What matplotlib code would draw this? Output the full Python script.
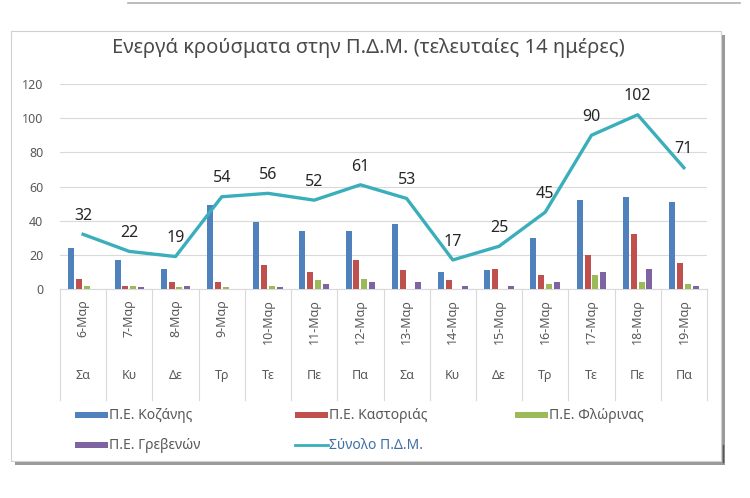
import matplotlib
matplotlib.use("Agg")
import matplotlib.pyplot as plt
from matplotlib.patches import Rectangle
from matplotlib.lines import Line2D
import numpy as np

plt.rcParams['font.family'] = ['Noto Sans', 'DejaVu Sans']

dates = ["6-Μαρ", "7-Μαρ", "8-Μαρ", "9-Μαρ", "10-Μαρ", "11-Μαρ", "12-Μαρ",
         "13-Μαρ", "14-Μαρ", "15-Μαρ", "16-Μαρ", "17-Μαρ", "18-Μαρ", "19-Μαρ"]
days = ["Σα", "Κυ", "Δε", "Τρ", "Τε", "Πε", "Πα", "Σα", "Κυ", "Δε", "Τρ", "Τε", "Πε", "Πα"]
kozani = [24, 17, 12, 49, 39, 34, 34, 38, 10, 11, 30, 52, 54, 51]
kastoria = [6, 2, 4, 4, 14, 10, 17, 11, 5, 12, 8, 20, 32, 15]
florina = [2, 2, 1, 1, 2, 5, 6, 0, 0, 0, 3, 8, 4, 3]
grevena = [0, 1, 2, 0, 1, 3, 4, 4, 2, 2, 4, 10, 12, 2]
total = [32, 22, 19, 54, 56, 52, 61, 53, 17, 25, 45, 90, 102, 71]

series = [("Π.Ε. Κοζάνης", kozani, "#4F81BD"),
          ("Π.Ε. Καστοριάς", kastoria, "#C0504D"),
          ("Π.Ε. Φλώρινας", florina, "#9BBB59"),
          ("Π.Ε. Γρεβενών", grevena, "#8064A2")]
line_color = "#3AAFBB"
grey = "#595959"

W, H = 750, 498
fig = plt.figure(figsize=(W / 100, H / 100), dpi=100)
fig.patch.set_facecolor("white")

def fx(px):
    return px / W

def fy(py):
    return 1 - py / H

# frame with shadow
shadow = Rectangle((fx(15), fy(465)), fx(710), fy(35) - fy(465),
                   transform=fig.transFigure, facecolor="#9a9a9a", edgecolor="none", zorder=0)
fig.patches.append(shadow)
frame = Rectangle((fx(11), fy(461)), fx(710), fy(31) - fy(461),
                  transform=fig.transFigure, facecolor="white", edgecolor="#d0d0d0", lw=0.8, zorder=0.5)
fig.patches.append(frame)
fig.add_artist(Line2D([fx(128), fx(740)], [fy(3), fy(3)], color="#b0b0b0", lw=1.2))
fig.add_artist(Line2D([fx(723), fx(723)], [fy(445), fy(462)], color="#555555", lw=1))

fig.text(fx(368), fy(48), "Ενεργά κρούσματα στην Π.Δ.Μ. (τελευταίες 14 ημέρες)",
         ha="center", va="center", fontsize=14.5, color="#4a4a4a", zorder=3)

ax = fig.add_axes([fx(60), fy(289), fx(707) - fx(60), fy(84) - fy(289)])
ax.set_zorder(2)
ax.set_facecolor("none")
x = np.arange(len(dates))
bw = 0.13
step = 0.17
for i, (name, vals, col) in enumerate(series):
    ax.bar(x + (i - 1.5) * step, vals, width=bw, color=col, zorder=3, label=name)
ax.plot(x, total, color=line_color, lw=2.4, zorder=4, label="Σύνολο Π.Δ.Μ.")
for xi, v in zip(x, total):
    ax.text(xi, v + 6, str(v), ha="center", va="bottom", fontsize=11.5, color="#262626", zorder=5)

ax.set_xlim(-0.5, len(dates) - 0.5)
ax.set_ylim(0, 120)
ax.set_yticks(range(0, 121, 20))
ax.yaxis.grid(True, color="#d9d9d9", lw=0.8, zorder=0)
ax.tick_params(axis="y", length=0, pad=12, labelsize=9, labelcolor=grey)
ax.set_xticks([])
for s in ["left", "right", "top"]:
    ax.spines[s].set_visible(False)
ax.spines["bottom"].set_color("#d9d9d9")

trans = ax.get_xaxis_transform()
# multi-level category labels
y_div_bot = -(400 - 289) / 205
for k in range(len(dates) + 1):
    ax.add_artist(Line2D([k - 0.5, k - 0.5], [0, y_div_bot], transform=trans,
                         color="#d9d9d9", lw=0.8, clip_on=False))
for xi, d, dy in zip(x, dates, days):
    ax.text(xi, -(299 - 289) / 205, d, transform=trans, rotation=90, ha="center", va="top",
            fontsize=9, color=grey)
    ax.text(xi, -(375 - 289) / 205, dy, transform=trans, ha="center", va="center",
            fontsize=9, color=grey)

# legend
leg_items = [(75, 415, "Π.Ε. Κοζάνης", "#4F81BD", "bar"),
             (295, 415, "Π.Ε. Καστοριάς", "#C0504D", "bar"),
             (515, 415, "Π.Ε. Φλώρινας", "#9BBB59", "bar"),
             (75, 445, "Π.Ε. Γρεβενών", "#8064A2", "bar"),
             (295, 445, "Σύνολο Π.Δ.Μ.", line_color, "line")]
for px, py, txt, col, kind in leg_items:
    if kind == "bar":
        fig.patches.append(Rectangle((fx(px), fy(py + 3)), fx(33), fy(py - 3) - fy(py + 3),
                                     transform=fig.transFigure, facecolor=col, edgecolor="none",
                                     zorder=3))
        tcol = grey
    else:
        fig.add_artist(Line2D([fx(px), fx(px + 33)], [fy(py), fy(py)], color=col, lw=2, zorder=3))
        tcol = "#3f6fa8"
    fig.text(fx(px + 34), fy(py), txt, ha="left", va="center", fontsize=10, color=tcol, zorder=3)

fig.savefig("out.png", dpi=100)
